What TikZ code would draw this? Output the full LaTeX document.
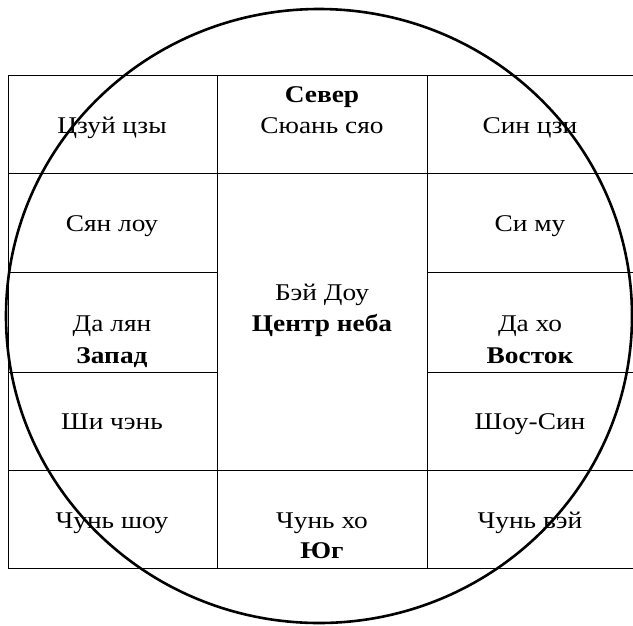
\documentclass[tikz,border=0pt]{standalone}
\usepackage{fontspec}
\setmainfont{Liberation Serif}[FakeStretch=1.14]
\begin{document}
\begin{tikzpicture}[x=1pt,y=-1pt,
  grid/.style={line width=0.9pt,black},
  ring/.style={line width=2.6pt,black},
  lbl/.style={anchor=base,inner sep=0pt,font=\fontsize{24}{28}\selectfont},
  blbl/.style={lbl,font=\fontsize{24}{28}\selectfont\bfseries}]
\useasboundingbox (0,0) rectangle (633,625);
\fill[white] (0,0) rectangle (633,625);
% grid corners
\coordinate (L1) at (8,75);   \coordinate (R1) at (633,75);
\coordinate (L2) at (8,173);  \coordinate (R2) at (633,173);
\coordinate (L3) at (8,272);  \coordinate (R3) at (633,272);
\coordinate (L4) at (8,372);  \coordinate (R4) at (633,372);
\coordinate (L5) at (8,470);  \coordinate (R5) at (633,470);
\coordinate (L6) at (8,568);  \coordinate (R6) at (633,568);
\coordinate (A1) at (217,75); \coordinate (A6) at (217,568);
\coordinate (B1) at (427,75); \coordinate (B6) at (427,568);
\coordinate (A3) at (217,272); \coordinate (A4) at (217,372);
\coordinate (B3) at (427,272); \coordinate (B4) at (427,372);
% grid lines
\draw[grid] (L1) -- (R1);
\draw[grid] (L2) -- (R2);
\draw[grid] (L3) -- (A3);
\draw[grid] (B3) -- (R3);
\draw[grid] (L4) -- (A4);
\draw[grid] (B4) -- (R4);
\draw[grid] (L5) -- (R5);
\draw[grid] (L6) -- (R6);
\draw[grid] (L1) -- (L6);
\draw[grid] (A1) -- (A6);
\draw[grid] (B1) -- (B6);
% circle
\coordinate (C) at (319,316);
\draw[ring] (C) ellipse [x radius=313, y radius=307];
% texts
\node[blbl] (sever) at (322,102) {Север};
\node[lbl] (syuan) at (322,133) {Сюань сяо};
\node[lbl] (czuy) at (112,133) {Цзуй цзы};
\node[lbl] (sin) at (530,133) {Син цзи};
\node[lbl] (syan) at (112,231) {Сян лоу};
\node[lbl] (simu) at (530,231) {Си му};
\node[lbl] (bey) at (322,300) {Бэй Доу};
\node[blbl] (centr) at (322,331) {Центр неба};
\node[lbl] (dalyan) at (112,331) {Да лян};
\node[blbl] (zapad) at (112,363) {Запад};
\node[lbl] (daho) at (530,331) {Да хо};
\node[blbl] (vostok) at (530,363) {Восток};
\node[lbl] (shi) at (112,429) {Ши чэнь};
\node[lbl] (shou) at (530,429) {Шоу-Син};
\node[lbl] (chshou) at (112,528) {Чунь шоу};
\node[lbl] (chho) at (322,528) {Чунь хо};
\node[blbl] (yug) at (322,558) {Юг};
\node[lbl] (chvey) at (530,528) {Чунь вэй};
\end{tikzpicture}
\end{document}
